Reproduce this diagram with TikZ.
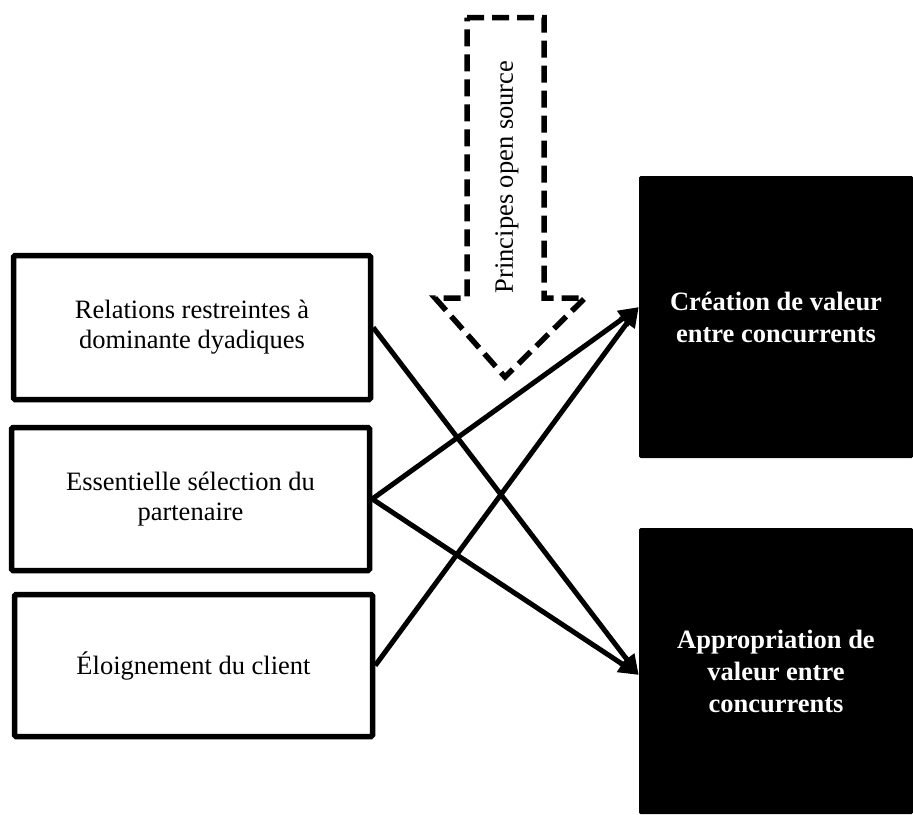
\documentclass[tikz,border=0pt]{standalone}
\usepackage{fontspec}
\setmainfont{Liberation Serif}
\usetikzlibrary{arrows.meta}
\begin{document}
\begin{tikzpicture}[x=1pt,y=-1pt,
  leftbox/.style={draw=black,line width=5.5pt,rounded corners=1.5pt,align=center,
    font=\fontsize{26.5}{30}\selectfont,inner sep=0pt},
  darkbox/.style={fill=black,rounded corners=1.5pt,align=center,text=white,
    font=\fontsize{26.5}{32}\selectfont\bfseries,inner sep=0pt},
  link/.style={line width=5pt,-{Triangle[length=20pt,width=18pt]}},
  dasharrow/.style={draw=black,line width=5.5pt,dash pattern=on 17pt off 8pt,line join=miter}]
\useasboundingbox (0,0) rectangle (913,814);
% left boxes
\node[leftbox,minimum width=357pt,minimum height=144pt] (b1) at (192,327.5)
  {Relations restreintes à\\dominante dyadiques};
\node[leftbox,minimum width=358pt,minimum height=143pt] (b2) at (190.5,499)
  {Essentielle sélection du\\partenaire};
\node[leftbox,minimum width=358pt,minimum height=142pt] (b3) at (193.5,665.5)
  {Éloignement du client};
% right boxes
\node[darkbox,minimum width=274pt,minimum height=282pt] (A) at (776,317)
  {Création de valeur\\entre concurrents};
\node[darkbox,minimum width=274pt,minimum height=286pt] (B) at (776,671)
  {Appropriation de\\valeur entre\\concurrents};
% dashed arrow
\draw[dasharrow] (467,17.5) -- (544,17.5) -- (544,298) -- (585,298) -- (505,377)
  -- (435,298) -- (467,298) -- cycle;
\node[rotate=90,font=\fontsize{26.5}{30}\selectfont,inner sep=0pt] (P) at (507,177)
  {Principes open source};
% connectors
\draw[link] (b1.east) -- ([yshift=-4pt]B.west);
\draw[link] (b2.east) -- ([yshift=10pt]A.west);
\draw[link] (b2.east) -- ([yshift=-4pt]B.west);
\draw[link] (b3.east) -- ([yshift=10pt]A.west);
\end{tikzpicture}
\end{document}
